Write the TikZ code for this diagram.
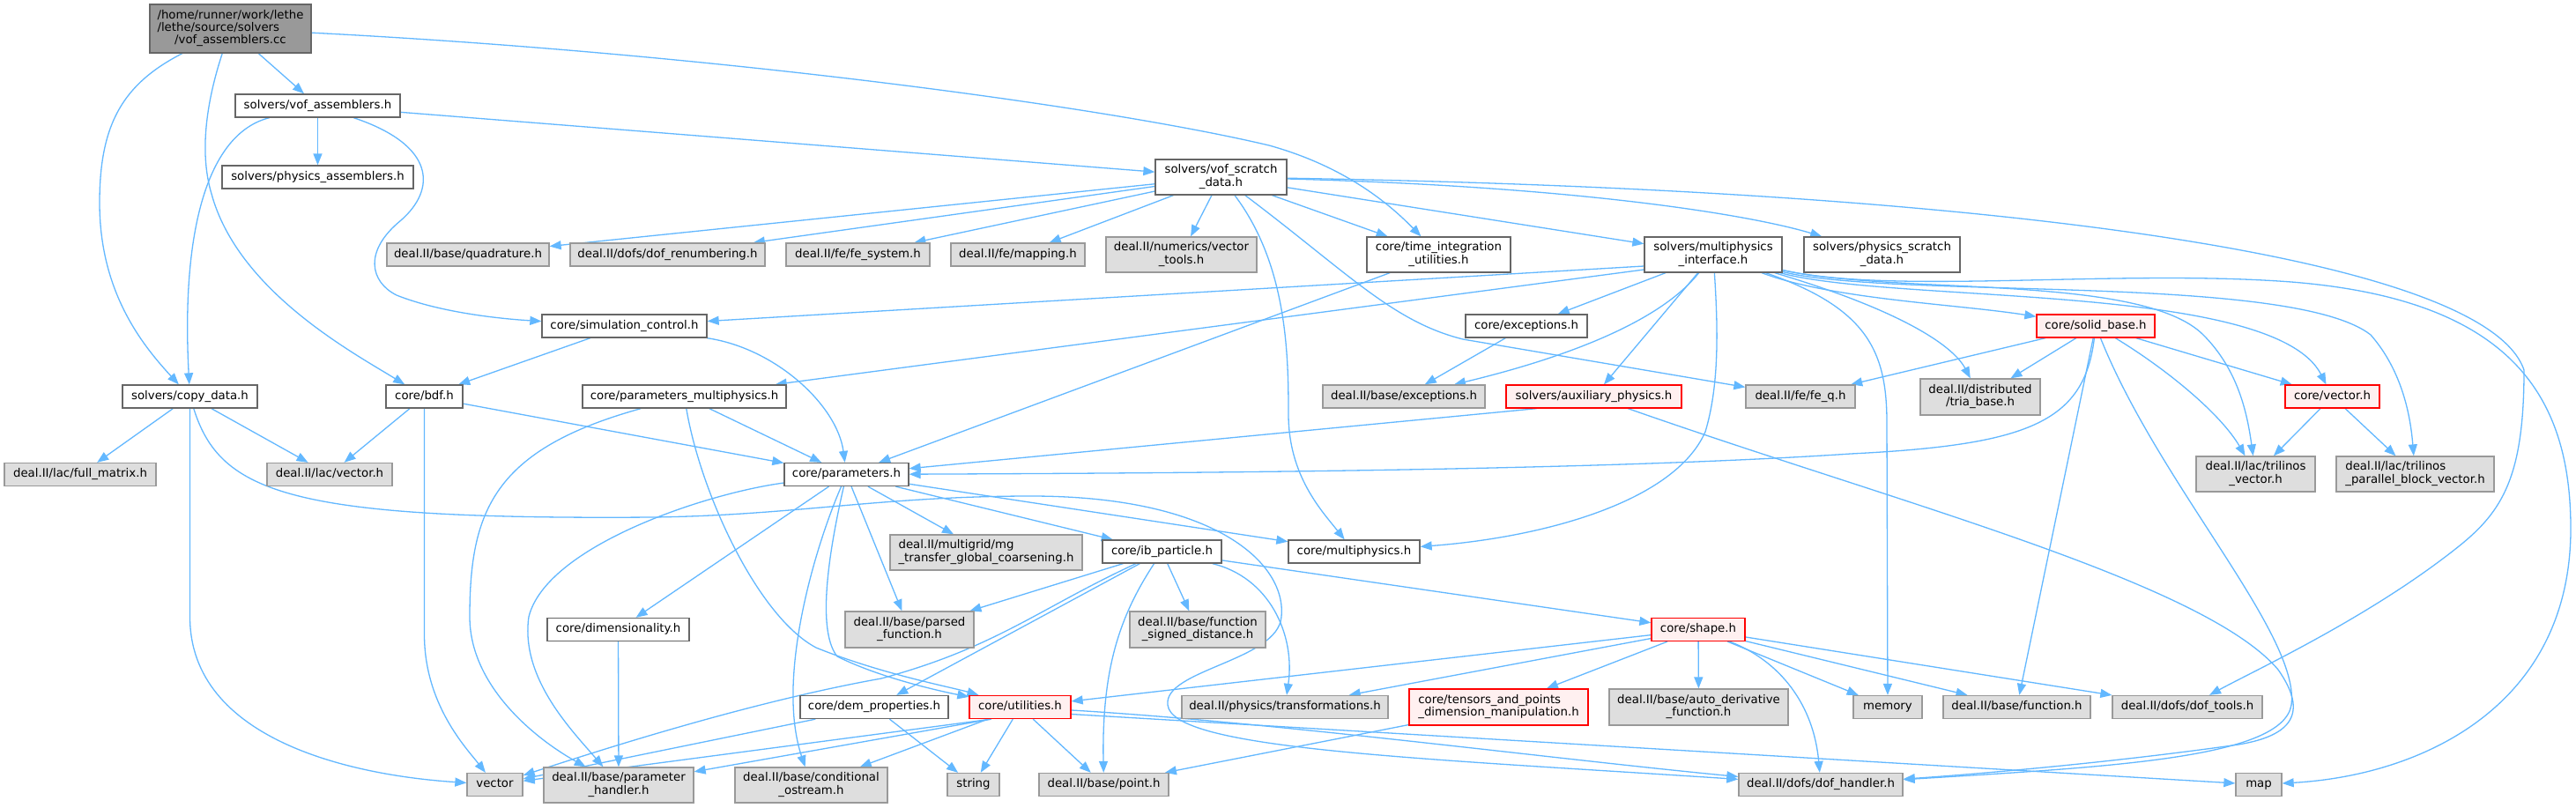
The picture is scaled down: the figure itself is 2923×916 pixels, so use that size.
\documentclass[tikz,border=0pt]{standalone}
\usepackage{fontspec}
\setmainfont{DejaVu Sans}
\usetikzlibrary{arrows.meta}
\pgfdeclarelayer{bg}
\pgfsetlayers{bg,main}
\definecolor{edgec}{HTML}{63B8FF}
\definecolor{gforty}{HTML}{666666}
\definecolor{gsixty}{HTML}{999999}
\definecolor{geighty}{HTML}{DEDEDE}
\definecolor{redfill}{HTML}{FFF0F0}
\newcommand\twol[2]{\begin{tabular}{@{}l@{}}#1\\\multicolumn{1}{@{}c@{}}{#2}\end{tabular}}
\newcommand\threel[3]{\begin{tabular}{@{}l@{}}#1\\#2\\\multicolumn{1}{@{}c@{}}{#3}\end{tabular}}
\tikzset{
 box/.style={draw, line width=1.3pt, inner sep=0pt, font=\fontsize{13.3pt}{14pt}\selectfont},
 wb/.style={box, draw=gforty, fill=white},
 gb/.style={box, draw=gsixty, fill=geighty},
 rb/.style={box, draw=red, fill=redfill},
 sl/.style={text height=9.8pt, text depth=2.9pt},
 sz/.style 2 args={minimum width=#1pt, minimum height=#2pt},
 e/.style={draw=edgec, line width=1.3pt, -{Triangle[length=13pt,width=10pt]}},
}
\begin{document}
\begin{tikzpicture}[x=1pt,y=-1pt]
\useasboundingbox (0,0) rectangle (2923,916);
% nodes
\node[wb,sz={183}{55},fill=gsixty,draw=gforty] (A) at (261.5,32.5) {\threel{/home/runner/work/lethe}{/lethe/source/solvers}{/vof\_assemblers.cc}};
\node[wb,sl,sz={187}{26}] (VA) at (360.5,120) {solvers/vof\_assemblers.h};
\node[wb,sl,sz={217}{26}] (PA) at (360.5,201) {solvers/physics\_assemblers.h};
\node[wb,sz={149}{40}] (S) at (1385.5,201) {\twol{solvers/vof\_scratch}{\_data.h}};
\node[gb,sl,sz={184}{26}] (QD) at (531,289) {deal.II/base/quadrature.h};
\node[gb,sl,sz={221}{26}] (DR) at (757.5,289) {deal.II/dofs/dof\_renumbering.h};
\node[gb,sl,sz={163}{26}] (FS) at (973.5,289) {deal.II/fe/fe\_system.h};
\node[gb,sl,sz={152}{26}] (MP) at (1155,289) {deal.II/fe/mapping.h};
\node[gb,sz={171}{40}] (VT) at (1340.5,289) {\twol{deal.II/numerics/vector}{\_tools.h}};
\node[wb,sz={163}{40}] (TI) at (1632.5,289) {\twol{core/time\_integration}{\_utilities.h}};
\node[wb,sz={156}{40}] (M) at (1944,289) {\twol{solvers/multiphysics}{\_interface.h}};
\node[wb,sz={177}{40}] (PS) at (2135.5,289) {\twol{solvers/physics\_scratch}{\_data.h}};
\node[wb,sl,sz={187}{26}] (SC) at (708.5,370) {core/simulation\_control.h};
\node[wb,sl,sz={138}{26}] (CE) at (1732,370) {core/exceptions.h};
\node[rb,sl,sz={134}{26}] (SB) at (2378,370) {core/solid\_base.h};
\node[wb,sl,sz={153}{26}] (CD) at (215.5,450) {solvers/copy\_data.h};
\node[wb,sl,sz={87}{26}] (BDF) at (481.5,450) {core/bdf.h};
\node[wb,sl,sz={231}{26}] (PM) at (776.5,450) {core/parameters\_multiphysics.h};
\node[gb,sl,sz={184}{26}] (BE) at (1593,450) {deal.II/base/exceptions.h};
\node[rb,sl,sz={199}{26}] (AP) at (1808.5,450) {solvers/auxiliary\_physics.h};
\node[gb,sl,sz={124}{26}] (FQ) at (2043,450) {deal.II/fe/fe\_q.h};
\node[gb,sz={136}{41}] (TB) at (2247,450.5) {\twol{deal.II/distributed}{/tria\_base.h}};
\node[rb,sl,sz={107}{26}] (CV) at (2646.5,450) {core/vector.h};
\node[gb,sl,sz={172}{26}] (FM) at (91,538.5) {deal.II/lac/full\_matrix.h};
\node[gb,sl,sz={142}{26}] (LV) at (374,538.5) {deal.II/lac/vector.h};
\node[wb,sl,sz={141}{26}] (P) at (960.5,538.5) {core/parameters.h};
\node[gb,sz={135}{40}] (TV) at (2559.5,538) {\twol{deal.II/lac/trilinos}{\_vector.h}};
\node[gb,sz={179}{40}] (TP) at (2740.5,538) {\twol{deal.II/lac/trilinos}{\_parallel\_block\_vector.h}};
\node[gb,sz={218}{40}] (MG) at (1119,627) {\twol{deal.II/multigrid/mg}{\_transfer\_global\_coarsening.h}};
\node[wb,sl,sz={135}{26}] (IB) at (1318.5,626) {core/ib\_particle.h};
\node[wb,sl,sz={149}{26}] (MU) at (1536.5,626) {core/multiphysics.h};
\node[wb,sl,sz={161}{26}] (DIM) at (701.5,714.5) {core/dimensionality.h};
\node[gb,sz={146}{41}] (PF) at (1032,714.5) {\twol{deal.II/base/parsed}{\_function.h}};
\node[gb,sz={154}{41}] (FSD) at (1359,714.5) {\twol{deal.II/base/function}{\_signed\_distance.h}};
\node[rb,sl,sz={106}{26}] (SH) at (1927,714.5) {core/shape.h};
\node[wb,sl,sz={168}{26}] (DEM) at (992,802.5) {core/dem\_properties.h};
\node[rb,sl,sz={115}{26}] (UT) at (1157.5,802.5) {core/utilities.h};
\node[gb,sl,sz={234}{26}] (TR) at (1458,802.5) {deal.II/physics/transformations.h};
\node[rb,sz={203}{41}] (TN) at (1700.5,802.5) {\twol{core/tensors\_and\_points}{\_dimension\_manipulation.h}};
\node[gb,sz={203}{41}] (AD) at (1927.5,802.5) {\twol{deal.II/base/auto\_derivative}{\_function.h}};
\node[gb,sl,sz={78}{26}] (MEM) at (2142,802.5) {memory};
\node[gb,sl,sz={167}{26}] (BF) at (2288.5,802.5) {deal.II/base/function.h};
\node[gb,sl,sz={170}{26}] (DT) at (2482,802.5) {deal.II/dofs/dof\_tools.h};
\node[gb,sl,sz={63}{26}] (VEC) at (561.5,890.5) {vector};
\node[gb,sz={170}{40}] (PH) at (702,891) {\twol{deal.II/base/parameter}{\_handler.h}};
\node[gb,sz={173}{40}] (CO) at (920.5,891) {\twol{deal.II/base/conditional}{\_ostream.h}};
\node[gb,sl,sz={59}{26}] (STR) at (1104.5,890.5) {string};
\node[gb,sl,sz={147}{26}] (PT) at (1252.5,890.5) {deal.II/base/point.h};
\node[gb,sl,sz={186}{26}] (DH) at (2066,890.5) {deal.II/dofs/dof\_handler.h};
\node[gb,sl,sz={52}{26}] (MAP) at (2563,890.5) {map};
% edges
\begin{pgfonlayer}{bg}
\fill[white] (0,0) rectangle (2923,916);
% root
\draw[e] (A) -- (VA);
\draw[e] (A) .. controls (140,95) and (113,140) .. (113,230) .. controls (113,330) and (160,390) .. (CD);
\draw[e] (A) .. controls (236,110) and (225,170) .. (240,220) .. controls (270,330) and (400,400) .. (BDF);
\draw[e] (A) .. controls (800,60) and (1250,120) .. (1440,165) .. controls (1530,190) and (1580,235) .. (TI);
% vof_assemblers.h
\draw[e] (VA) -- (PA);
\draw[e] (VA) -- (S);
\draw[e] (VA) .. controls (240,150) and (205,250) .. (CD);
\draw[e] (VA) .. controls (495,165) and (495,215) .. (455,250) .. controls (412,285) and (420,320) .. (450,335) .. controls (500,355) and (570,362) .. (SC);
% vof_scratch_data.h
\draw[e] (S) -- (QD);
\draw[e] (S) -- (DR);
\draw[e] (S) -- (FS);
\draw[e] (S) -- (MP);
\draw[e] (S) -- (VT);
\draw[e] (S) -- (TI);
\draw[e] (S) -- (M);
\draw[e] (S) .. controls (1800,212) and (1990,245) .. (PS);
\draw[e] (S) .. controls (2250,215) and (2820,290) .. (2864,420) .. controls (2864,540) and (2840,580) .. (2790,620) .. controls (2690,700) and (2560,760) .. (DT);
\draw[e] (S) .. controls (1460,300) and (1462,400) .. (1462,470) .. controls (1462,540) and (1500,580) .. (MU);
\draw[e] (S) .. controls (1530,310) and (1580,365) .. (1660,385) -- (FQ);
% multiphysics_interface.h
\draw[e] ([yshift=-13pt]M.west) -- (SC);
\draw[e] ([yshift=-17pt]M.west) -- (PM);
\draw[e] (M) -- (CE);
\draw[e] (M) .. controls (1880,370) and (1760,410) .. (BE);
\draw[e] (M) -- (AP);
\draw[e] (M) .. controls (1950,380) and (1950,440) .. (1935,490) .. controls (1900,570) and (1750,610) .. (MU);
\draw[e] (M) .. controls (2120,350) and (2141,400) .. (2141,480) -- (MEM);
\draw[e] (M) .. controls (2150,350) and (2215,390) .. (TB);
\draw[e] (M) .. controls (2080,340) and (2220,345) .. (SB);
\draw[e] (M) .. controls (2150,335) and (2430,310) .. (2500,380) .. controls (2540,420) and (2550,470) .. (TV);
\draw[e] (M) .. controls (2150,345) and (2580,320) .. (CV);
\draw[e] (M) .. controls (2150,340) and (2600,310) .. (2690,380) .. controls (2725,420) and (2735,470) .. (TP);
\draw[e] (M) .. controls (2150,335) and (2400,305) .. (2600,320) .. controls (2850,340) and (2917,450) .. (2917,600) .. controls (2917,800) and (2750,880) .. (MAP);
% copy_data.h
\draw[e] (CD) -- (FM);
\draw[e] (CD) -- (LV);
\draw[e] (CD) -- (215.5,700) .. controls (215.5,840) and (400,880) .. (VEC);
\draw[e] (CD) .. controls (250,560) and (330,590) .. (740,587) .. controls (900,585) and (1000,563) .. (1170,563) .. controls (1380,563) and (1460,640) .. (1454,700) .. controls (1450,750) and (1320,760) .. (1325,800) .. controls (1330,850) and (1600,860) .. (DH);
% bdf.h
\draw[e] (BDF) -- (LV);
\draw[e] (BDF) -- (481.5,720) .. controls (481.5,800) and (530,850) .. (VEC);
\draw[e] (BDF) -- (P);
% simulation_control.h
\draw[e] (SC) -- (BDF);
\draw[e] (SC) .. controls (880,395) and (950,460) .. (P);
% parameters_multiphysics.h
\draw[e] (PM) -- (P);
\draw[e] (PM) .. controls (795,560) and (860,700) .. (926,735) .. controls (1000,765) and (1080,780) .. (UT);
\draw[e] (PM) .. controls (560,510) and (533,580) .. (533,700) .. controls (533,780) and (610,840) .. (PH);
% time_integration
\draw[e] (TI) -- (P);
% exceptions
\draw[e] (CE) -- (BE);
% auxiliary_physics
\draw[e] ([xshift=-65pt]AP.south) -- (P);
\draw[e] (AP) .. controls (2150,570) and (2500,660) .. (2585,760) .. controls (2620,810) and (2600,835) .. (2540,845) .. controls (2400,865) and (2250,878) .. (DH);
% solid_base.h
\draw[e] (SB) -- (FQ);
\draw[e] (SB) -- (TB);
\draw[e] (SB) .. controls (2365,480) and (2300,505) .. (2100,515) .. controls (1800,535) and (1300,537) .. (P);
\draw[e] (SB) -- (BF);
\draw[e] (SB) .. controls (2450,550) and (2610,720) .. (2600,800) .. controls (2590,860) and (2400,870) .. (DH);
\draw[e] (SB) .. controls (2460,420) and (2520,470) .. (TV);
\draw[e] (SB) -- (CV);
% core/vector.h
\draw[e] (CV) -- (TV);
\draw[e] (CV) -- (TP);
% parameters.h
\draw[e] (P) .. controls (800,560) and (620,620) .. (600,700) .. controls (590,770) and (650,830) .. (PH);
\draw[e] (P) -- (DIM);
\draw[e] (P) .. controls (935,650) and (930,720) .. (950,745) .. controls (1000,770) and (1070,785) .. (UT);
\draw[e] (P) .. controls (925,620) and (880,770) .. (CO);
\draw[e] (P) -- (PF);
\draw[e] (P) -- (MG);
\draw[e] (P) -- (IB);
\draw[e] (P) -- (MU);
% ib_particle.h
\draw[e] (IB) -- (PF);
\draw[e] (IB) -- (FSD);
\draw[e] (IB) -- (DEM);
\draw[e] (IB) .. controls (1180,690) and (1130,735) .. (1000,770) .. controls (860,795) and (700,845) .. (VEC);
\draw[e] (IB) .. controls (1270,700) and (1250,760) .. (PT);
\draw[e] (IB) .. controls (1440,655) and (1470,720) .. (TR);
\draw[e] (IB) -- (SH);
% dem_properties.h
\draw[e] (DEM) -- (VEC);
\draw[e] (DEM) -- (STR);
% utilities.h
\draw[e] ([xshift=-33pt]UT.south) -- (VEC);
\draw[e] ([xshift=-33pt]UT.south) -- (PH);
\draw[e] (UT) -- (CO);
\draw[e] (UT) -- (STR);
\draw[e] (UT) -- (PT);
\draw[e] (UT) .. controls (1450,820) and (1750,860) .. (DH);
\draw[e] ([yshift=-8pt]UT.east) -- (MAP);
% shape.h
\draw[e] (SH) -- (UT);
\draw[e] (SH) -- (TR);
\draw[e] (SH) -- (TN);
\draw[e] (SH) -- (AD);
\draw[e] (SH) .. controls (2020,750) and (2058,800) .. (DH);
\draw[e] (SH) -- (MEM);
\draw[e] (SH) -- (BF);
\draw[e] (SH) -- (DT);
% tensors
\draw[e] (TN) -- (PT);
% dimensionality
\draw[e] (DIM) -- (PH);
\end{pgfonlayer}
\end{tikzpicture}
\end{document}
